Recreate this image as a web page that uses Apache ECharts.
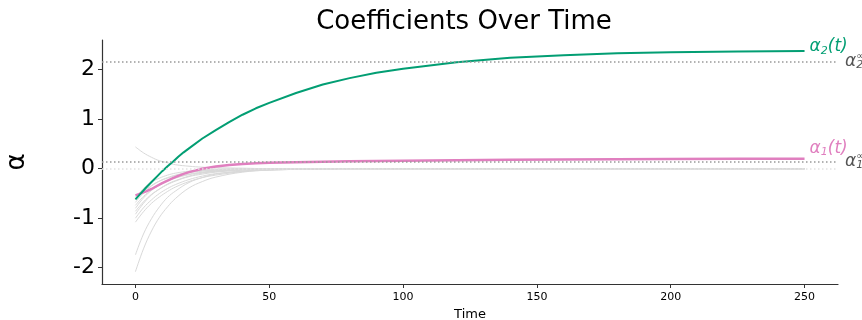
<!DOCTYPE html>
<html>
<head>
<meta charset="utf-8">
<script src="https://cdn.jsdelivr.net/npm/echarts@6/dist/echarts.min.js"></script>
<style>html,body{margin:0;padding:0;background:#fff}#c{width:862px;height:320px}</style>
</head>
<body>
<div id="c"></div>
<script>
// main coefficient curves
const T = [0,2,4,6,8,10,12,14,16,18,20,25,30,35,40,45,50,60,70,80,90,100,120,140,160,180,200,225,250];
const alpha2 = [-0.62,-0.50,-0.38,-0.27,-0.16,-0.05,0.05,0.14,0.24,0.33,0.41,0.61,0.78,0.94,1.09,1.22,1.33,1.53,1.70,1.83,1.94,2.02,2.15,2.24,2.29,2.33,2.35,2.37,2.38];
const alpha1 = [-0.54,-0.50,-0.46,-0.41,-0.35,-0.29,-0.24,-0.19,-0.145,-0.105,-0.07,0.0,0.045,0.075,0.095,0.108,0.118,0.13,0.14,0.148,0.155,0.16,0.17,0.178,0.185,0.19,0.195,0.20,0.203];
// grey background curves
const TG = [0,3,6,9,12,15,20,25,30,40,50,75,100,150,200,250];
const g1  = [0.44,0.32,0.23,0.16,0.12,0.08,0.05,0.03,0.02,0.01,0,0,0,0,0,0];
const g2  = [-0.58,-0.40,-0.27,-0.19,-0.13,-0.09,-0.05,-0.03,-0.01,0,0,0,0,0,0,0];
const g3  = [-0.62,-0.46,-0.34,-0.25,-0.19,-0.14,-0.08,-0.05,-0.03,-0.01,0,0,0,0,0,0];
const g4  = [-0.68,-0.49,-0.35,-0.25,-0.18,-0.13,-0.07,-0.04,-0.02,-0.01,0,0,0,0,0,0];
const g5  = [-0.74,-0.56,-0.43,-0.33,-0.25,-0.19,-0.12,-0.08,-0.05,-0.02,-0.01,0,0,0,0,0];
const g6  = [-0.80,-0.59,-0.44,-0.33,-0.24,-0.18,-0.11,-0.07,-0.04,-0.01,-0.01,0,0,0,0,0];
const g7  = [-0.86,-0.67,-0.52,-0.41,-0.32,-0.25,-0.16,-0.11,-0.07,-0.03,-0.01,0,0,0,0,0];
const g8  = [-0.92,-0.70,-0.53,-0.41,-0.31,-0.24,-0.15,-0.09,-0.06,-0.02,-0.01,0,0,0,0,0];
const g9  = [-1.00,-0.79,-0.63,-0.50,-0.40,-0.32,-0.22,-0.15,-0.10,-0.05,-0.02,0,0,0,0,0];
const g10 = [-1.08,-0.87,-0.70,-0.57,-0.46,-0.37,-0.26,-0.18,-0.13,-0.06,-0.03,0,0,0,0,0];
const g11 = [-1.74,-1.32,-1.01,-0.77,-0.58,-0.45,-0.28,-0.18,-0.11,-0.05,-0.02,0,0,0,0,0];
const g12 = [-2.08,-1.62,-1.26,-0.98,-0.77,-0.60,-0.39,-0.26,-0.17,-0.07,-0.03,0,0,0,0,0];
const greyCurves = [g1,g2,g3,g4,g5,g6,g7,g8,g9,g10,g11,g12];
// asymptotes
const alpha2Inf = 2.17;
const alpha1Inf = 0.15;
const zeroLine = 0;
// ticks
const xTicks = [0,50,100,150,200,250];
const yTicks = [-2,-1,0,1,2];

const GREEN = '#029e73';
const PINK = '#e07fbf';
const zip = (xs, ys) => xs.map((x,i)=>[x, ys[i]]);

const chart = echarts.init(document.getElementById('c'), null, {renderer:'canvas'});

const dotted = (v, color, labelRich) => ({
  yAxis: v,
  lineStyle: {color: color, type: [1.5, 2.5], width: 1.5},
  label: labelRich ? Object.assign({show: true, position: 'end', distance: 7}, labelRich) : {show: false}
});

const infRich = {
  a: {fontFamily: 'DejaVu Sans', fontStyle: 'italic', fontSize: 17, color: '#555'},
  s: {fontFamily: 'DejaVu Sans', fontStyle: 'italic', fontSize: 11, color: '#555', verticalAlign: 'bottom', padding: [8,0,0,0]},
  h: {fontFamily: 'DejaVu Sans', fontStyle: 'italic', fontSize: 17, color: 'rgba(0,0,0,0)'},
  p: {fontFamily: 'DejaVu Sans', fontSize: 10, color: '#555', verticalAlign: 'top', padding: [0,0,9,0]}
};

const series = [];
greyCurves.forEach((g, i) => {
  series.push({
    type: 'line', data: zip(TG, g), showSymbol: false, smooth: 0.4,
    lineStyle: {color: '#d9d9d9', width: 1}, z: 1, silent: true
  });
});
series.push({
  type: 'line', data: [], z: 2, silent: true,
  markLine: {
    symbol: 'none', silent: true,
    data: [
      dotted(zeroLine, '#e2e2e2', null),
      dotted(alpha2Inf, '#999', {formatter: '{a|α}{s|2}', rich: infRich}),
      dotted(alpha2Inf, 'rgba(0,0,0,0)', {formatter: '{h|α}{p|∞}', rich: infRich}),
      dotted(alpha1Inf, '#999', {formatter: '{a|α}{s|1}', rich: infRich}),
      dotted(alpha1Inf, 'rgba(0,0,0,0)', {formatter: '{h|α}{p|∞}', rich: infRich})
    ]
  }
});
const endRich = (c) => ({
  a: {fontFamily: 'DejaVu Sans', fontStyle: 'italic', fontSize: 17, color: c},
  s: {fontFamily: 'DejaVu Sans', fontStyle: 'italic', fontSize: 11, color: c, verticalAlign: 'bottom', padding: [8,0,0,0]}
});
series.push({
  type: 'line', data: zip(T, alpha1), showSymbol: false, smooth: false,
  lineStyle: {color: PINK, width: 2.5}, z: 3,
  endLabel: {show: true, formatter: '{a|α}{s|1}{a|(t)}', rich: endRich(PINK), distance: 5, offset: [0,-10]}
});
series.push({
  type: 'line', data: zip(T, alpha2), showSymbol: false, smooth: false,
  lineStyle: {color: GREEN, width: 2}, z: 4,
  endLabel: {show: true, formatter: '{a|α}{s|2}{a|(t)}', rich: endRich(GREEN), distance: 5, offset: [0,-4]}
});

chart.setOption({
  animation: false,
  backgroundColor: '#fff',
  title: {
    text: 'Coefficients Over Time', left: 459, top: 4, textAlign: 'center',
    textStyle: {fontFamily: 'DejaVu Sans', fontSize: 26, fontWeight: 'normal', color: '#000'}
  },
  grid: {left: 102, right: 24, top: 40, bottom: 36, containLabel: false, outerBoundsMode: 'none'},
  xAxis: {
    type: 'value', min: -12.5, max: 262.5,
    name: 'Time', nameLocation: 'middle', nameGap: 22,
    nameTextStyle: {fontFamily: 'DejaVu Sans', fontSize: 13, color: '#000'},
    axisLine: {show: true, onZero: false, lineStyle: {color: '#333', width: 1.2}},
    axisTick: {show: true, length: 4, customValues: xTicks, lineStyle: {color: '#333'}},
    axisLabel: {customValues: xTicks, fontFamily: 'DejaVu Sans', fontSize: 11, color: '#000', margin: 8},
    splitLine: {show: false}
  },
  yAxis: {
    type: 'value', min: -2.33, max: 2.6,
    name: 'α', nameLocation: 'middle', nameGap: 72, nameRotate: 90,
    nameTextStyle: {fontFamily: 'DejaVu Sans', fontSize: 26, color: '#000'},
    axisLine: {show: true, onZero: false, lineStyle: {color: '#333', width: 1.2}},
    axisTick: {show: true, length: 4, customValues: yTicks, lineStyle: {color: '#333'}},
    axisLabel: {customValues: yTicks, fontFamily: 'DejaVu Sans', fontSize: 22, color: '#000', margin: 7,
      formatter: v => String(v)},
    splitLine: {show: false}
  },
  series: series
});
</script>
</body>
</html>
